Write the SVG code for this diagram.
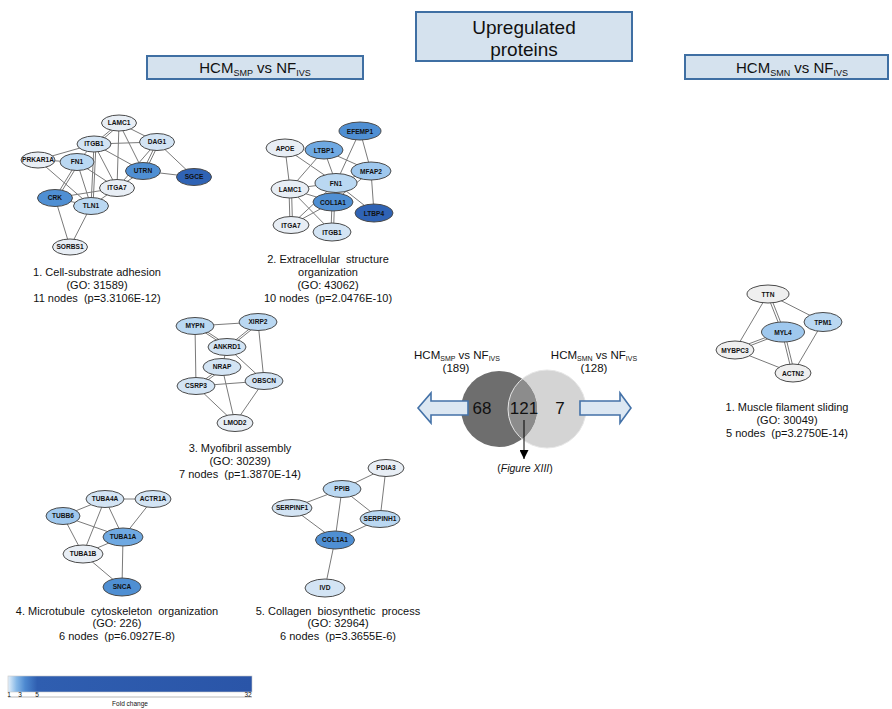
<svg xmlns="http://www.w3.org/2000/svg" width="892" height="709" viewBox="0 0 892 709">
<style>
text{font-family:"Liberation Sans",Arial,sans-serif;fill:#111}
.hdr{fill:#d5e2ee;stroke:#3f6fa3;stroke-width:2}
.e line{stroke:#7a7a7a;stroke-width:1}
.n ellipse{stroke:#4a4a4a;stroke-width:1}
.n text{font-size:6.6px;font-weight:bold;text-anchor:middle}
.cap{font-size:11px;text-anchor:middle;white-space:pre}
.vl{font-size:11.5px;text-anchor:middle}
.big{font-size:17px;text-anchor:middle}
.leg{font-size:6.5px}
.c0{fill:#e8eef5}.c1{fill:#d3e4f4}.c2{fill:#bad8f2}.c3{fill:#9fc8ee}.c4{fill:#6fa9e2}.c5{fill:#4f8fd3}.c6{fill:#2f63b5}.cg{fill:#efefef}
</style>
<defs>
<linearGradient id="fc" x1="0" y1="0" x2="1" y2="0">
<stop offset="0" stop-color="#e4f0fa"/>
<stop offset="0.035" stop-color="#86b8e7"/>
<stop offset="0.07" stop-color="#4d89d0"/>
<stop offset="0.12" stop-color="#2f5eb0"/>
<stop offset="1" stop-color="#2a55a8"/>
</linearGradient>
<marker id="ah" markerWidth="9" markerHeight="9" refX="9" refY="4.5" orient="auto" markerUnits="userSpaceOnUse" viewBox="0 0 9 9">
<path d="M0,0 L9,4.5 L0,9 Z" fill="#000"/>
</marker>
<clipPath id="rc"><circle cx="547" cy="409" r="39"/></clipPath>
</defs>

<!-- headers -->
<g id="hdr-up">
<rect class="hdr" x="416" y="12" width="216" height="49"/>
<text x="524" y="34" font-size="19" text-anchor="middle">Upregulated</text>
<text x="524" y="56" font-size="19" text-anchor="middle">proteins</text>
</g>
<g id="hdr-smp">
<rect class="hdr" x="147" y="56" width="216" height="23"/>
<text x="255" y="73" font-size="15" text-anchor="middle">HCM<tspan font-size="9" dy="3">SMP</tspan><tspan dy="-3"> vs NF</tspan><tspan font-size="9" dy="3">IVS</tspan></text>
</g>
<g id="hdr-smn">
<rect class="hdr" x="685" y="55" width="203" height="24"/>
<text x="792" y="73" font-size="15" text-anchor="middle">HCM<tspan font-size="9" dy="3">SMN</tspan><tspan dy="-3"> vs NF</tspan><tspan font-size="9" dy="3">IVS</tspan></text>
</g>

<!-- connectors -->
<g id="connectors" class="e">
<!-- network 1 -->
<line x1="119" y1="123" x2="94" y2="144"/><line x1="120" y1="124.5" x2="95.5" y2="145.5"/>
<line x1="119" y1="123" x2="157" y2="142"/>
<line x1="119" y1="123" x2="117" y2="188"/>
<line x1="119" y1="123" x2="143" y2="171"/>
<line x1="94" y1="144" x2="157" y2="142"/>
<line x1="38" y1="160" x2="94" y2="144"/>
<line x1="94" y1="144" x2="77" y2="162"/>
<line x1="94" y1="144" x2="143" y2="171"/>
<line x1="94" y1="144" x2="117" y2="188"/>
<line x1="94" y1="144" x2="91" y2="206"/><line x1="96" y1="144" x2="93" y2="206"/>
<line x1="157" y1="142" x2="143" y2="171"/><line x1="159" y1="143" x2="145" y2="172"/>
<line x1="157" y1="142" x2="194" y2="177"/>
<line x1="157" y1="142" x2="117" y2="188"/>
<line x1="143" y1="171" x2="194" y2="177"/>
<line x1="143" y1="171" x2="117" y2="188"/>
<line x1="38" y1="160" x2="77" y2="162"/>
<line x1="38" y1="160" x2="91" y2="206"/>
<line x1="77" y1="162" x2="55" y2="198"/><line x1="79" y1="163" x2="57" y2="199"/>
<line x1="77" y1="162" x2="91" y2="206"/>
<line x1="77" y1="162" x2="117" y2="188"/>
<line x1="55" y1="198" x2="91" y2="206"/>
<line x1="55" y1="198" x2="117" y2="188"/>
<line x1="55" y1="198" x2="70" y2="247"/>
<line x1="91" y1="206" x2="70" y2="247"/>
<line x1="91" y1="206" x2="117" y2="188"/>
<!-- network 2 -->
<line x1="285" y1="148" x2="290" y2="189"/>
<line x1="285" y1="148" x2="336" y2="183"/>
<line x1="324" y1="150" x2="336" y2="183"/>
<line x1="324" y1="150" x2="290" y2="189"/>
<line x1="324" y1="150" x2="371" y2="171"/>
<line x1="360" y1="131" x2="336" y2="183"/>
<line x1="360" y1="131" x2="371" y2="171"/>
<line x1="371" y1="171" x2="336" y2="183"/>
<line x1="371" y1="171" x2="333" y2="202"/>
<line x1="371" y1="171" x2="374" y2="213"/>
<line x1="336" y1="183" x2="290" y2="189"/>
<line x1="336" y1="183" x2="333" y2="202"/>
<line x1="336" y1="183" x2="374" y2="213"/>
<line x1="336" y1="183" x2="291" y2="225"/>
<line x1="289" y1="189" x2="290" y2="225"/><line x1="291.5" y1="189" x2="292.5" y2="225"/>
<line x1="290" y1="189" x2="332" y2="232"/>
<line x1="290" y1="189" x2="333" y2="202"/>
<line x1="332" y1="202" x2="331" y2="232"/><line x1="334.5" y1="202" x2="333.5" y2="232"/>
<line x1="333" y1="202" x2="291" y2="225"/>
<!-- network 3 -->
<line x1="195" y1="326" x2="258" y2="322"/>
<line x1="195" y1="326" x2="227" y2="347"/><line x1="196" y1="324.5" x2="228" y2="345.5"/>
<line x1="195" y1="326" x2="196" y2="386"/>
<line x1="258" y1="322" x2="227" y2="347"/><line x1="259" y1="323.5" x2="228" y2="348.5"/>
<line x1="258" y1="322" x2="264" y2="381"/>
<line x1="227" y1="347" x2="222" y2="367"/>
<line x1="227" y1="347" x2="264" y2="381"/>
<line x1="222" y1="367" x2="196" y2="386"/><line x1="223.5" y1="368.5" x2="197.5" y2="387.5"/>
<line x1="222" y1="367" x2="235" y2="423"/>
<line x1="196" y1="386" x2="264" y2="381"/>
<line x1="196" y1="386" x2="235" y2="423"/>
<line x1="264" y1="381" x2="235" y2="423"/>
<!-- network 4 -->
<line x1="105" y1="499" x2="153" y2="499"/>
<line x1="105" y1="499" x2="63" y2="516"/>
<line x1="105" y1="499" x2="123" y2="537"/>
<line x1="105" y1="499" x2="83" y2="554"/>
<line x1="153" y1="499" x2="123" y2="537"/>
<line x1="63" y1="516" x2="123" y2="537"/>
<line x1="63" y1="516" x2="83" y2="554"/>
<line x1="123" y1="537" x2="83" y2="554"/>
<line x1="123" y1="537" x2="122" y2="587"/>
<line x1="83" y1="554" x2="122" y2="587"/>
<!-- network 5 -->
<line x1="342" y1="489" x2="386" y2="468"/>
<line x1="342" y1="489" x2="292" y2="508"/>
<line x1="342" y1="489" x2="380" y2="519"/>
<line x1="342" y1="489" x2="335" y2="540"/>
<line x1="386" y1="468" x2="380" y2="519"/>
<line x1="292" y1="508" x2="335" y2="540"/>
<line x1="380" y1="519" x2="335" y2="540"/>
<line x1="335" y1="540" x2="325" y2="588"/>
<!-- right network -->
<line x1="768" y1="294" x2="823" y2="322"/>
<line x1="767" y1="294" x2="782" y2="332"/><line x1="769.5" y1="294" x2="784.5" y2="332"/>
<line x1="768" y1="294" x2="735" y2="350"/>
<line x1="783" y1="331" x2="735" y2="349"/><line x1="783" y1="333" x2="735" y2="351.5"/>
<line x1="782" y1="332" x2="792" y2="373"/><line x1="784.5" y1="332" x2="794.5" y2="373"/>
<line x1="735" y1="350" x2="793" y2="373"/>
<line x1="823" y1="322" x2="793" y2="373"/>
</g>

<!-- network 1 nodes -->
<g id="n1-LAMC1" class="n"><ellipse class="c0" cx="119" cy="123" rx="17.5" ry="8"/><text x="119" y="125.4">LAMC1</text></g>
<g id="n1-ITGB1" class="n"><ellipse class="c1" cx="94" cy="144" rx="17" ry="8"/><text x="94" y="146.4">ITGB1</text></g>
<g id="n1-DAG1" class="n"><ellipse class="c1" cx="157" cy="142" rx="17.5" ry="8.5"/><text x="157" y="144.4">DAG1</text></g>
<g id="n1-PRKAR1A" class="n"><ellipse class="c0" cx="38" cy="160" rx="17" ry="8"/><text x="38" y="162.4">PRKAR1A</text></g>
<g id="n1-FN1" class="n"><ellipse class="c2" cx="77" cy="162" rx="17" ry="8.5"/><text x="77" y="164.4">FN1</text></g>
<g id="n1-UTRN" class="n"><ellipse class="c5" cx="143" cy="171" rx="17.5" ry="8.5"/><text x="143" y="173.4">UTRN</text></g>
<g id="n1-SGCE" class="n"><ellipse class="c6" cx="194" cy="177" rx="17.5" ry="8.5"/><text x="194" y="179.4">SGCE</text></g>
<g id="n1-ITGA7" class="n"><ellipse class="c0" cx="117" cy="188" rx="17.5" ry="8.5"/><text x="117" y="190.4">ITGA7</text></g>
<g id="n1-CRK" class="n"><ellipse class="c5" cx="55" cy="198" rx="17.5" ry="8.5"/><text x="55" y="200.4">CRK</text></g>
<g id="n1-TLN1" class="n"><ellipse class="c2" cx="91" cy="206" rx="17.5" ry="8.5"/><text x="91" y="208.4">TLN1</text></g>
<g id="n1-SORBS1" class="n"><ellipse class="c0" cx="70" cy="247" rx="17.5" ry="8"/><text x="70" y="249.4">SORBS1</text></g>

<!-- network 2 nodes -->
<g id="n2-EFEMP1" class="n"><ellipse class="c5" cx="360" cy="131" rx="21" ry="9"/><text x="360" y="133.5">EFEMP1</text></g>
<g id="n2-APOE" class="n"><ellipse class="c0" cx="285" cy="148" rx="19" ry="9"/><text x="285" y="150.5">APOE</text></g>
<g id="n2-LTBP1" class="n"><ellipse class="c4" cx="324" cy="150" rx="19" ry="9"/><text x="324" y="152.5">LTBP1</text></g>
<g id="n2-MFAP2" class="n"><ellipse class="c3" cx="371" cy="171" rx="20" ry="9"/><text x="371" y="173.5">MFAP2</text></g>
<g id="n2-FN1" class="n"><ellipse class="c2" cx="336" cy="183" rx="21" ry="9.5"/><text x="336" y="185.5">FN1</text></g>
<g id="n2-LAMC1" class="n"><ellipse class="c0" cx="290" cy="189" rx="19" ry="9"/><text x="290" y="191.5">LAMC1</text></g>
<g id="n2-COL1A1" class="n"><ellipse class="c5" cx="333" cy="202" rx="20" ry="9"/><text x="333" y="204.5">COL1A1</text></g>
<g id="n2-LTBP4" class="n"><ellipse class="c6" cx="374" cy="213" rx="19" ry="9"/><text x="374" y="215.5">LTBP4</text></g>
<g id="n2-ITGA7" class="n"><ellipse class="c0" cx="291" cy="225" rx="18" ry="8.5"/><text x="291" y="227.5">ITGA7</text></g>
<g id="n2-ITGB1" class="n"><ellipse class="c1" cx="332" cy="232" rx="19" ry="9"/><text x="332" y="234.5">ITGB1</text></g>

<!-- network 3 nodes -->
<g id="n3-MYPN" class="n"><ellipse class="c2" cx="195" cy="326" rx="19" ry="8.5"/><text x="195" y="328.4">MYPN</text></g>
<g id="n3-XIRP2" class="n"><ellipse class="c2" cx="258" cy="322" rx="19" ry="8.5"/><text x="258" y="324.4">XIRP2</text></g>
<g id="n3-ANKRD1" class="n"><ellipse class="c1" cx="227" cy="347" rx="19" ry="8.5"/><text x="227" y="349.4">ANKRD1</text></g>
<g id="n3-NRAP" class="n"><ellipse class="c1" cx="222" cy="367" rx="19" ry="8.5"/><text x="222" y="369.4">NRAP</text></g>
<g id="n3-OBSCN" class="n"><ellipse class="c1" cx="264" cy="381" rx="19" ry="8.5"/><text x="264" y="383.4">OBSCN</text></g>
<g id="n3-CSRP3" class="n"><ellipse class="c1" cx="196" cy="386" rx="19" ry="8.5"/><text x="196" y="388.4">CSRP3</text></g>
<g id="n3-LMOD2" class="n"><ellipse class="c0" cx="235" cy="423" rx="18" ry="8.5"/><text x="235" y="425.4">LMOD2</text></g>

<!-- network 4 nodes -->
<g id="n4-TUBA4A" class="n"><ellipse class="c1" cx="105" cy="499" rx="19" ry="8.5"/><text x="105" y="501.4">TUBA4A</text></g>
<g id="n4-ACTR1A" class="n"><ellipse class="c1" cx="153" cy="499" rx="18" ry="8.5"/><text x="153" y="501.4">ACTR1A</text></g>
<g id="n4-TUBB6" class="n"><ellipse class="c3" cx="63" cy="516" rx="17" ry="8.5"/><text x="63" y="518.4">TUBB6</text></g>
<g id="n4-TUBA1A" class="n"><ellipse class="c4" cx="123" cy="537" rx="20" ry="9"/><text x="123" y="539.4">TUBA1A</text></g>
<g id="n4-TUBA1B" class="n"><ellipse class="c0" cx="83" cy="554" rx="20" ry="9"/><text x="83" y="556.4">TUBA1B</text></g>
<g id="n4-SNCA" class="n"><ellipse class="c5" cx="122" cy="587" rx="19" ry="9"/><text x="122" y="589.4">SNCA</text></g>

<!-- network 5 nodes -->
<g id="n5-PPIB" class="n"><ellipse class="c2" cx="342" cy="489" rx="19" ry="8.5"/><text x="342" y="491.4">PPIB</text></g>
<g id="n5-PDIA3" class="n"><ellipse class="c0" cx="386" cy="468" rx="18" ry="8.5"/><text x="386" y="470.4">PDIA3</text></g>
<g id="n5-SERPINF1" class="n"><ellipse class="c1" cx="292" cy="508" rx="20" ry="8.5"/><text x="292" y="510.4">SERPINF1</text></g>
<g id="n5-SERPINH1" class="n"><ellipse class="c2" cx="380" cy="519" rx="20" ry="8.5"/><text x="380" y="521.4">SERPINH1</text></g>
<g id="n5-COL1A1" class="n"><ellipse class="c5" cx="335" cy="540" rx="19.5" ry="9"/><text x="335" y="542.4">COL1A1</text></g>
<g id="n5-IVD" class="n"><ellipse class="c1" cx="325" cy="588" rx="20" ry="9"/><text x="325" y="590.4">IVD</text></g>

<!-- right network nodes -->
<g id="r-TTN" class="n"><ellipse class="cg" cx="768" cy="294" rx="21" ry="9"/><text x="768" y="296.5">TTN</text></g>
<g id="r-TPM1" class="n"><ellipse class="c2" cx="823" cy="322" rx="19" ry="9.5"/><text x="823" y="324.5">TPM1</text></g>
<g id="r-MYL4" class="n"><ellipse class="c3" cx="783" cy="332" rx="21.5" ry="10"/><text x="783" y="334.5">MYL4</text></g>
<g id="r-MYBPC3" class="n"><ellipse class="cg" cx="735" cy="350" rx="19" ry="9"/><text x="735" y="352.5">MYBPC3</text></g>
<g id="r-ACTN2" class="n"><ellipse class="cg" cx="793" cy="373" rx="18" ry="9"/><text x="793" y="375.5">ACTN2</text></g>

<!-- captions -->
<g id="cap1"><text class="cap" x="97" y="276">1. Cell-substrate adhesion</text><text class="cap" x="97" y="289">(GO: 31589)</text><text class="cap" x="97" y="302">11 nodes  (p=3.3106E-12)</text></g>
<g id="cap2"><text class="cap" x="328" y="263">2. Extracellular  structure</text><text class="cap" x="328" y="276">organization</text><text class="cap" x="328" y="289">(GO: 43062)</text><text class="cap" x="328" y="302">10 nodes  (p=2.0476E-10)</text></g>
<g id="cap3"><text class="cap" x="240" y="452">3. Myofibril assembly</text><text class="cap" x="240" y="465">(GO: 30239)</text><text class="cap" x="240" y="478">7 nodes  (p=1.3870E-14)</text></g>
<g id="cap4"><text class="cap" x="117" y="615">4. Microtubule  cytoskeleton  organization</text><text class="cap" x="117" y="627">(GO: 226)</text><text class="cap" x="117" y="640">6 nodes  (p=6.0927E-8)</text></g>
<g id="cap5"><text class="cap" x="338" y="615">5. Collagen  biosynthetic  process</text><text class="cap" x="338" y="627">(GO: 32964)</text><text class="cap" x="338" y="640">6 nodes  (p=3.3655E-6)</text></g>
<g id="capR"><text class="cap" x="787" y="411">1. Muscle filament sliding</text><text class="cap" x="787" y="424">(GO: 30049)</text><text class="cap" x="787" y="437">5 nodes  (p=3.2750E-14)</text></g>

<!-- Venn -->
<g id="venn">
<circle cx="547" cy="409" r="39" fill="#d4d4d4"/>
<circle cx="499" cy="409" r="38" fill="#6e6e6e"/>
<circle cx="499" cy="409" r="38" fill="#8c8c8c" clip-path="url(#rc)"/>
<circle cx="547" cy="409" r="39" fill="none" stroke="#e6e6e6" stroke-width="1"/>
<text class="vl" x="457" y="359">HCM<tspan font-size="7" dy="2">SMP</tspan><tspan dy="-2"> vs NF</tspan><tspan font-size="7" dy="2">IVS</tspan></text>
<text class="vl" x="456" y="372">(189)</text>
<text class="vl" x="594" y="359">HCM<tspan font-size="7" dy="2">SMN</tspan><tspan dy="-2"> vs NF</tspan><tspan font-size="7" dy="2">IVS</tspan></text>
<text class="vl" x="594" y="372">(128)</text>
<path d="M468,401 L431,401 L431,393 L418,408 L431,423 L431,415 L468,415 Z" fill="#dce7f2" stroke="#4472a8" stroke-width="1.6"/>
<path d="M580,401 L620,401 L620,393 L631,408 L620,423 L620,415 L580,415 Z" fill="#dce7f2" stroke="#4472a8" stroke-width="1.6"/>
<text class="big" x="482" y="414">68</text>
<text class="big" x="524" y="414">121</text>
<text class="big" x="560" y="414">7</text>
<line x1="524" y1="420" x2="524" y2="459" stroke="#000" stroke-width="1" marker-end="url(#ah)"/>
<text x="525" y="472" font-size="10.5" text-anchor="middle">(<tspan font-style="italic">Figure XIII</tspan>)</text>
</g>

<!-- legend -->
<g id="legend">
<rect x="8" y="676" width="244" height="16" fill="url(#fc)" stroke="#c8c8c8" stroke-width="0.6"/>
<line x1="8" y1="697" x2="252" y2="697" stroke="#888" stroke-width="0.6"/>
<text class="leg" x="9" y="696.5" text-anchor="middle">1</text>
<text class="leg" x="20" y="696.5" text-anchor="middle">3</text>
<text class="leg" x="37" y="696.5" text-anchor="middle">5</text>
<text class="leg" x="248" y="696.5" text-anchor="middle">32</text>
<text class="leg" x="130" y="706" text-anchor="middle">Fold change</text>
</g>
</svg>
